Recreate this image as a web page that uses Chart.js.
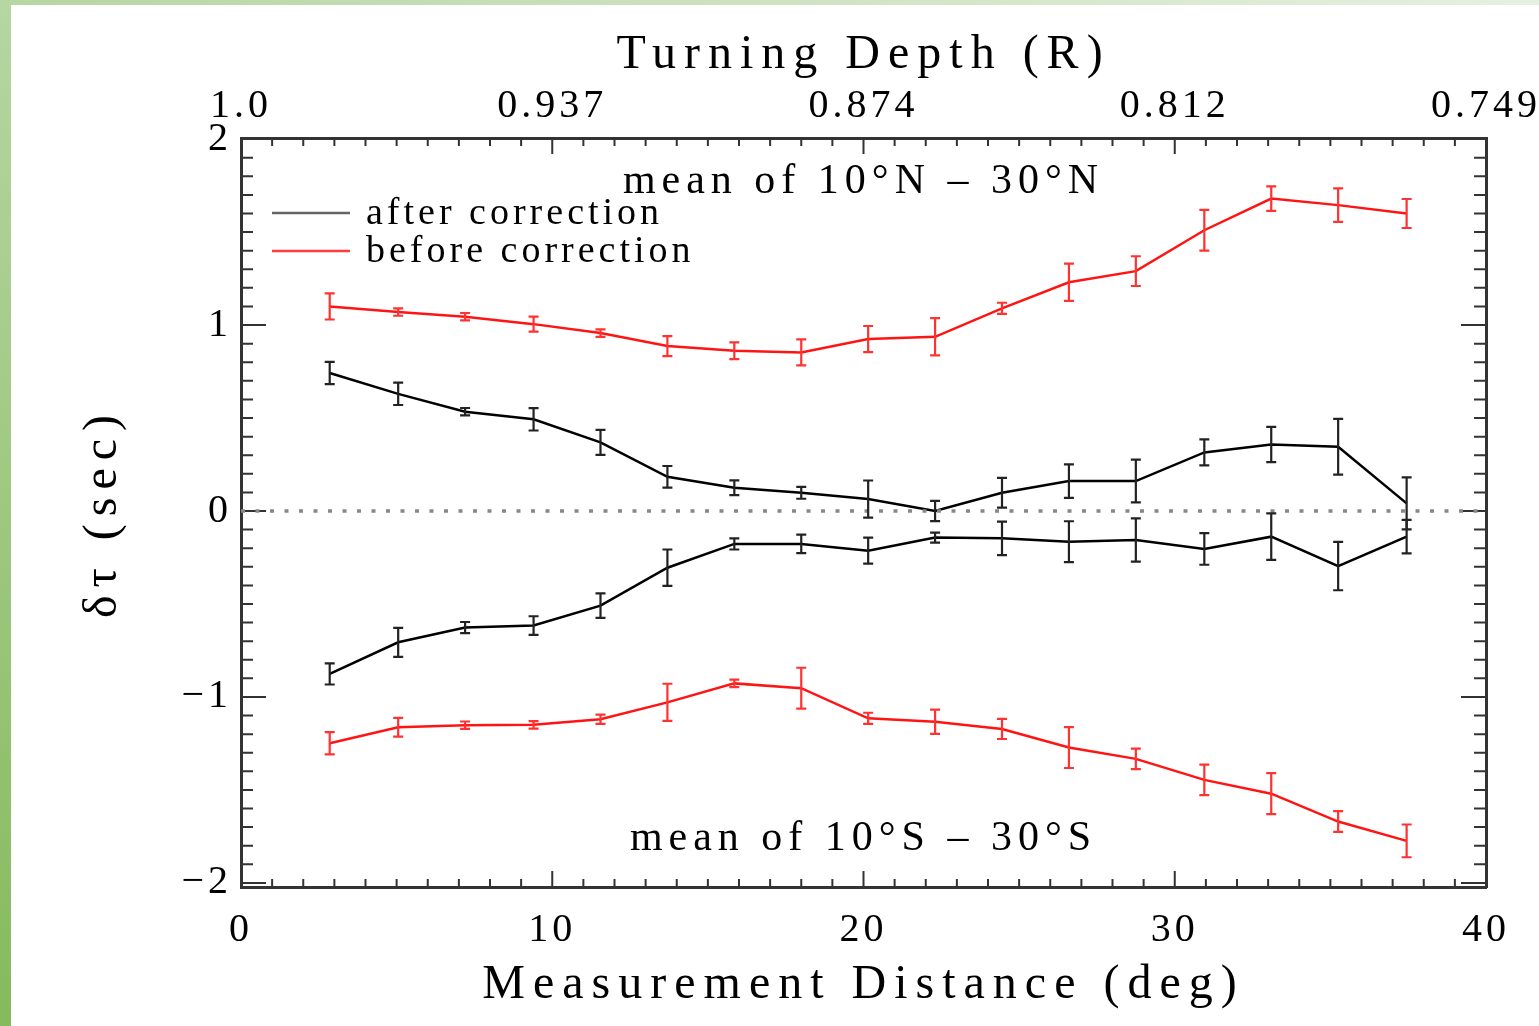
<!DOCTYPE html>
<html>
<head>
<meta charset="utf-8">
<title>Turning Depth</title>
<script src="https://cdn.jsdelivr.net/npm/chart.js@4.4.1/dist/chart.umd.min.js"></script>
<style>
    html, body { margin: 0; padding: 0; background: #fff; }
    #wrap { position: relative; width: 1539px; height: 1026px; overflow: hidden; }
    #chart { position: absolute; left: 0; top: 0; }
    .edge-top { position: absolute; left: 0; top: 0; width: 1539px; height: 5px;
                background: linear-gradient(to right, #b6d6a2, #e6f0df); }
    .edge-left { position: absolute; left: 0; top: 0; width: 11px; height: 1026px;
                 background: linear-gradient(to bottom, #b6d6a2, #86ba5c); }
</style>
</head>
<body>
<div id="wrap">
    <canvas id="chart" width="1539" height="1026"></canvas>
    <div class="edge-top"></div>
    <div class="edge-left"></div>
</div>
<script>
// ========================================
// Data
// ========================================

const distance = [2.85, 5.05, 7.2, 9.4, 11.55, 13.7, 15.85, 18.0, 20.15, 22.3, 24.45, 26.6, 28.75, 30.95, 33.1, 35.25, 37.45];

const beforeNorth    = [1.10, 1.07, 1.045, 1.005, 0.957, 0.887, 0.862, 0.853, 0.925, 0.937, 1.09, 1.23, 1.29, 1.51, 1.68, 1.645, 1.60];
const beforeNorthErr = [0.07, 0.02, 0.02, 0.04, 0.02, 0.054, 0.045, 0.07, 0.07, 0.10, 0.03, 0.10, 0.08, 0.11, 0.066, 0.09, 0.078];

const afterNorth     = [0.742, 0.63, 0.534, 0.493, 0.369, 0.184, 0.125, 0.098, 0.064, 0.0, 0.098, 0.161, 0.161, 0.315, 0.358, 0.346, 0.041];
const afterNorthErr  = [0.06, 0.06, 0.02, 0.06, 0.067, 0.058, 0.04, 0.032, 0.10, 0.054, 0.08, 0.09, 0.115, 0.07, 0.095, 0.15, 0.14];

const afterSouth     = [-0.876, -0.706, -0.627, -0.616, -0.509, -0.305, -0.177, -0.177, -0.213, -0.143, -0.147, -0.165, -0.156, -0.204, -0.138, -0.296, -0.138];
const afterSouthErr  = [0.057, 0.078, 0.03, 0.05, 0.066, 0.098, 0.03, 0.05, 0.07, 0.027, 0.09, 0.11, 0.116, 0.085, 0.125, 0.13, 0.09];

const beforeSouth    = [-1.249, -1.163, -1.152, -1.150, -1.12, -1.029, -0.927, -0.953, -1.115, -1.133, -1.172, -1.272, -1.333, -1.446, -1.52, -1.67, -1.774];
const beforeSouthErr = [0.06, 0.05, 0.02, 0.02, 0.025, 0.10, 0.02, 0.11, 0.03, 0.065, 0.054, 0.11, 0.055, 0.082, 0.11, 0.056, 0.088];

const zeroLineX = [0, 40];
const zeroLineY = [0, 0];

const bottomTickValues = [0, 10, 20, 30, 40];
const topTickValues = [0, 10, 20, 30, 40];
const topTickLabels = ['1.0', '0.937', '0.874', '0.812', '0.749'];
const leftTickValues = [-2, -1, 0, 1, 2];

const noteTexts = ['mean of 10°N – 30°N', 'mean of 10°S – 30°S'];

// ========================================
// Styling
// ========================================

const SERIF = '"Liberation Serif", "DejaVu Serif", serif';
const TITLE_SPACING = '8px';
const LABEL_SPACING = '4px';
const RED = 'rgb(255, 20, 20)';
const BLACK = '#000';

function points(xs, ys) {
    return xs.map((x, i) => ({ x: x, y: ys[i] }));
}

// error bars from the dataset's own errors array
const errorBars = {
    id: 'errorBars',
    afterDatasetsDraw(chart) {
        const ctx = chart.ctx;
        const yScale = chart.scales.y;
        chart.data.datasets.forEach((ds, di) => {
            if (!ds.errors) return;
            const meta = chart.getDatasetMeta(di);
            ctx.save();
            ctx.strokeStyle = ds.errorColor;
            ctx.lineWidth = 2.2;
            meta.data.forEach((pt, i) => {
                const v = ds.data[i].y;
                const e = ds.errors[i];
                const top = yScale.getPixelForValue(v + e);
                const bot = yScale.getPixelForValue(v - e);
                ctx.beginPath();
                ctx.moveTo(pt.x, top); ctx.lineTo(pt.x, bot);
                ctx.moveTo(pt.x - 5, top); ctx.lineTo(pt.x + 5, top);
                ctx.moveTo(pt.x - 5, bot); ctx.lineTo(pt.x + 5, bot);
                ctx.stroke();
            });
            ctx.restore();
        });
    }
};

// IDL-style ticks pointing into the plot on all four sides
const inwardTicks = {
    id: 'inwardTicks',
    beforeDatasetsDraw(chart) {
        const { ctx, chartArea: a, scales } = chart;
        ctx.save();
        ctx.strokeStyle = '#333';
        ctx.lineWidth = 2;
        ctx.beginPath();
        for (let k = -20; k <= 20; k++) {
            const py = scales.y.getPixelForValue(k / 10);
            const len = k % 10 === 0 ? 25 : 12;
            ctx.moveTo(a.left, py); ctx.lineTo(a.left + len, py);
            ctx.moveTo(a.right, py); ctx.lineTo(a.right - len, py);
        }
        for (let k = 0; k <= 40; k++) {
            const px = scales.x.getPixelForValue(k);
            const len = k % 10 === 0 ? 16 : 8;
            ctx.moveTo(px, a.bottom); ctx.lineTo(px, a.bottom - len);
            ctx.moveTo(px, a.top); ctx.lineTo(px, a.top + len);
        }
        ctx.stroke();
        ctx.restore();
    }
};

// legend + region notes inside the frame
const notes = {
    id: 'notes',
    afterDraw(chart) {
        const { ctx, chartArea: a, scales } = chart;
        ctx.save();
        ctx.font = '38px ' + SERIF;
        ctx.letterSpacing = '4px';
        ctx.fillStyle = '#000';
        ctx.textBaseline = 'alphabetic';
        const items = chart.data.datasets.filter(ds => ds.inLegend);
        items.forEach((ds, i) => {
            const ly = a.top + 75 + i * 38;
            ctx.strokeStyle = ds.legendColor;
            ctx.lineWidth = 2.5;
            ctx.beginPath();
            ctx.moveTo(a.left + 31, ly);
            ctx.lineTo(a.left + 109, ly);
            ctx.stroke();
            ctx.fillText(ds.label, a.left + 125, ly + 11);
        });

        ctx.font = '42px ' + SERIF;
        ctx.letterSpacing = '6px';
        ctx.textAlign = 'center';
        const cx = scales.x.getPixelForValue(20);
        ctx.fillText(noteTexts[0], cx, scales.y.getPixelForValue(1.71));
        ctx.fillText(noteTexts[1], cx, scales.y.getPixelForValue(-1.823));
        ctx.restore();
    }
};

// letter spacing for the axis titles and tick labels drawn by Chart.js
const spacing = {
    id: 'spacing',
    beforeDraw(chart) {
        Object.values(chart.scales).forEach(s => {
            if (s.$spaced) return;
            const drawTitle = s.drawTitle;
            const drawLabels = s.drawLabels;
            s.drawTitle = function() {
                chart.ctx.letterSpacing = TITLE_SPACING;
                drawTitle.apply(this, arguments);
                chart.ctx.letterSpacing = '0px';
            };
            s.drawLabels = function() {
                chart.ctx.letterSpacing = LABEL_SPACING;
                drawLabels.apply(this, arguments);
                chart.ctx.letterSpacing = '0px';
            };
            s.$spaced = true;
        });
    }
};

function fmtMinus(v) {
    return v < 0 ? '\u2212' + Math.abs(v) : String(v);
}

const labelFont = { family: SERIF, size: 40 };
const titleFont = { family: SERIF, size: 48 };
const border = { display: true, color: '#333', width: 3 };
const noGrid = { display: false, drawTicks: false };

new Chart(document.getElementById('chart'), {
    type: 'line',
    data: {
        datasets: [
            {
                label: 'zero',
                data: points(zeroLineX, zeroLineY),
                borderColor: '#888',
                borderWidth: 3.5,
                borderDash: [4, 10.5],
                pointRadius: 0
            },
            {
                label: 'after correction',
                data: points(distance, afterNorth),
                errors: afterNorthErr,
                errorColor: '#222',
                borderColor: BLACK,
                borderWidth: 2.5,
                pointRadius: 0,
                inLegend: true,
                legendColor: '#666'
            },
            {
                label: 'before correction',
                data: points(distance, beforeNorth),
                errors: beforeNorthErr,
                errorColor: 'rgb(255, 50, 50)',
                borderColor: RED,
                borderWidth: 2.5,
                pointRadius: 0,
                inLegend: true,
                legendColor: 'rgb(255, 60, 60)'
            },
            {
                label: 'after correction (S)',
                data: points(distance, afterSouth),
                errors: afterSouthErr,
                errorColor: '#222',
                borderColor: BLACK,
                borderWidth: 2.5,
                pointRadius: 0
            },
            {
                label: 'before correction (S)',
                data: points(distance, beforeSouth),
                errors: beforeSouthErr,
                errorColor: 'rgb(255, 50, 50)',
                borderColor: RED,
                borderWidth: 2.5,
                pointRadius: 0
            }
        ]
    },
    options: {
        responsive: false,
        animation: false,
        devicePixelRatio: 1,
        layout: { padding: 0 },
        elements: { line: { tension: 0 } },
        plugins: {
            legend: { display: false },
            tooltip: { enabled: false }
        },
        scales: {
            x: {
                type: 'linear',
                position: 'bottom',
                min: 0,
                max: 40,
                afterBuildTicks: s => { s.ticks = bottomTickValues.map(v => ({ value: v })); },
                afterFit: s => { s.height = 139; },
                grid: noGrid,
                border: border,
                ticks: { font: labelFont, color: '#000', padding: 19, maxRotation: 0 },
                title: {
                    display: true,
                    text: 'Measurement Distance (deg)',
                    font: titleFont,
                    color: '#000',
                    padding: { top: 0, bottom: 12 }
                }
            },
            x2: {
                type: 'linear',
                position: 'top',
                min: 0,
                max: 40,
                afterBuildTicks: s => { s.ticks = topTickValues.map(v => ({ value: v })); },
                afterFit: s => { s.height = 138; },
                grid: noGrid,
                border: border,
                ticks: {
                    font: labelFont,
                    color: '#000',
                    padding: 8,
                    maxRotation: 0,
                    callback: v => topTickLabels[topTickValues.indexOf(v)]
                },
                title: {
                    display: true,
                    text: 'Turning Depth (R)',
                    font: titleFont,
                    color: '#000',
                    padding: { top: 27, bottom: 0 }
                }
            },
            y: {
                type: 'linear',
                position: 'left',
                min: -2.022,
                max: 2.006,
                afterBuildTicks: s => { s.ticks = leftTickValues.map(v => ({ value: v })); },
                afterFit: s => { s.width = 241; },
                grid: noGrid,
                border: border,
                ticks: { font: labelFont, color: '#000', padding: 9, callback: v => fmtMinus(v) },
                title: {
                    display: true,
                    text: 'δτ (sec)',
                    font: titleFont,
                    color: '#000',
                    padding: { top: 75, bottom: 0 }
                }
            },
            y2: {
                type: 'linear',
                position: 'right',
                min: -2.022,
                max: 2.006,
                afterFit: s => { s.width = 49; },
                grid: noGrid,
                border: border,
                ticks: { display: false }
            }
        }
    },
    plugins: [spacing, inwardTicks, errorBars, notes]
});
</script>
</body>
</html>
